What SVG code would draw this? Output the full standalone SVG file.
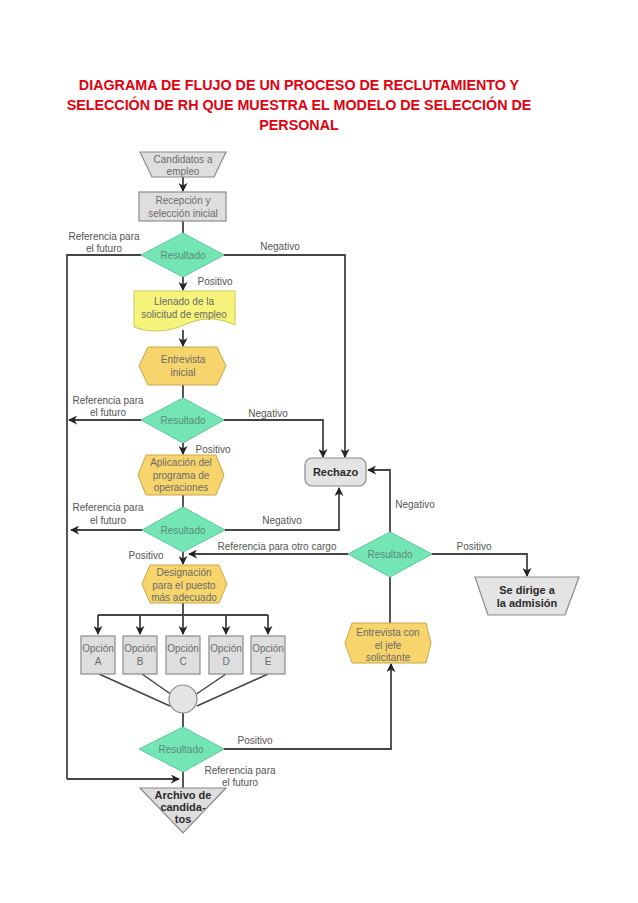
<svg xmlns="http://www.w3.org/2000/svg" width="638" height="903" viewBox="0 0 638 903">
<style>
.title{font-family:"Liberation Sans",Arial,sans-serif;font-weight:bold;font-size:14.3px;fill:#e3000f;text-anchor:middle}
.lbl{font-family:"Liberation Sans",Arial,sans-serif;font-size:10px;fill:#555;text-anchor:middle}
.nt{font-family:"Liberation Sans",Arial,sans-serif;font-size:10px;fill:#6a6a6a;text-anchor:middle}
.bt{font-family:"Liberation Sans",Arial,sans-serif;font-size:11px;font-weight:bold;fill:#2a2a2a;text-anchor:middle}
.gray{fill:#dedede;stroke:#8a8a8a;stroke-width:1.2}
.dia{fill:#74e6b6;stroke:#5cc89c;stroke-width:1}
.hex{fill:#f8d46c;stroke:#c9a84a;stroke-width:1}
.doc{fill:#f6f47a;stroke:#c9c55a;stroke-width:1}
.c{fill:none;stroke:#444;stroke-width:1.8}
.ca{fill:none;stroke:#444;stroke-width:1.8;marker-end:url(#ah)}
</style>
<defs>
<marker id="ah" viewBox="0 0 10 10" refX="9" refY="5" markerWidth="9" markerHeight="9" markerUnits="userSpaceOnUse" orient="auto">
<path d="M0,0 L10,5 L0,10 L3,5 z" fill="#222"/>
</marker>
</defs>
<rect width="638" height="903" fill="#fff"/>
<g id="title">
<text class="title" x="299" y="90">DIAGRAMA DE FLUJO DE UN PROCESO DE RECLUTAMIENTO Y</text>
<text class="title" x="299" y="110">SELECCIÓN DE RH QUE MUESTRA EL MODELO DE SELECCIÓN DE</text>
<text class="title" x="299" y="130">PERSONAL</text>
</g>
<g id="connectors">
<path class="ca" d="M183,177 V191"/>
<path class="c" d="M183,221 V233"/>
<path class="c" d="M141,255 H67 V779"/>
<path class="ca" d="M67,779 H179"/>
<path class="ca" d="M224,255 H345 V457"/>
<path class="ca" d="M183,277 V290"/>
<path class="ca" d="M183,330 V346"/>
<path class="c" d="M183,385 V398"/>
<path class="ca" d="M141,420 H69"/>
<path class="ca" d="M224,420 H323 V457"/>
<path class="ca" d="M183,443 V454"/>
<path class="c" d="M183,495 V507"/>
<path class="ca" d="M142,530 H71"/>
<path class="ca" d="M225,530 H339 V488"/>
<path class="ca" d="M183,552 V564"/>
<path class="ca" d="M348,554 H189"/>
<path class="ca" d="M390,532 V470 H368"/>
<path class="ca" d="M432,554 H527 V576"/>
<path class="c" d="M390,577 V623"/>
<path class="c" d="M183,603 V615"/>
<path class="c" d="M98,615 H268"/>
<path class="ca" d="M98,615 V634"/>
<path class="ca" d="M140,615 V634"/>
<path class="ca" d="M183,615 V634"/>
<path class="ca" d="M226,615 V634"/>
<path class="ca" d="M268,615 V634"/>
<path class="c" d="M99,674 L170,706 M142,674 L172,695 M226,674 L195,695 M268,674 L197,706" style="stroke-width:1.5"/>
<path class="c" d="M183,713 V727"/>
<path class="ca" d="M224,749 H391 V664"/>
<path class="c" d="M183,772 V788"/>
</g>
<g id="labels">
<text class="lbl" x="104" y="240">Referencia para</text>
<text class="lbl" x="104" y="252">el futuro</text>
<text class="lbl" x="280" y="250">Negativo</text>
<text class="lbl" x="215" y="285">Positivo</text>
<text class="lbl" x="108" y="404">Referencia para</text>
<text class="lbl" x="108" y="416">el futuro</text>
<text class="lbl" x="268" y="417">Negativo</text>
<text class="lbl" x="213" y="453">Positivo</text>
<text class="lbl" x="108" y="511">Referencia para</text>
<text class="lbl" x="108" y="524">el futuro</text>
<text class="lbl" x="282" y="524">Negativo</text>
<text class="lbl" x="146" y="559">Positivo</text>
<text class="lbl" x="277" y="550">Referencia para otro cargo</text>
<text class="lbl" x="415" y="508">Negativo</text>
<text class="lbl" x="474" y="550">Positivo</text>
<text class="lbl" x="255" y="744">Positivo</text>
<text class="lbl" x="240" y="774">Referencia para</text>
<text class="lbl" x="240" y="786">el futuro</text>
</g>
<g id="candidatos">
<path class="gray" d="M140,152 H226 L214,177 H152 Z"/>
<text class="nt" x="183" y="163">Candidatos a</text>
<text class="nt" x="183" y="175">empleo</text>
</g>
<g id="recepcion">
<rect class="gray" x="139" y="192" width="87" height="29"/>
<text class="nt" x="183" y="204">Recepción y</text>
<text class="nt" x="183" y="217">selección inicial</text>
</g>
<g id="resultado1">
<path class="dia" d="M183,233 L224,255 L183,277 L141,255 Z"/>
<text class="nt" x="183" y="259" style="fill:#5a8a78">Resultado</text>
</g>
<g id="llenado">
<path class="doc" d="M134,291 H235 V325 C215,316 200,318 184,325 C168,332 150,333 134,327 Z"/>
<text class="nt" x="184" y="305">Llenado de la</text>
<text class="nt" x="184" y="318">solicitud de empleo</text>
</g>
<g id="entrevista">
<path class="hex" d="M148,347 H217 L226,366 L217,385 H148 L139,366 Z"/>
<text class="nt" x="183" y="363">Entrevista</text>
<text class="nt" x="183" y="376">inicial</text>
</g>
<g id="resultado2">
<path class="dia" d="M183,398 L224,420 L183,443 L141,420 Z"/>
<text class="nt" x="183" y="424" style="fill:#5a8a78">Resultado</text>
</g>
<g id="aplicacion">
<path class="hex" d="M146,455 H216 L224,475 L216,495 H146 L138,475 Z"/>
<text class="nt" x="181" y="466">Aplicación del</text>
<text class="nt" x="181" y="479">programa de</text>
<text class="nt" x="181" y="491">operaciones</text>
</g>
<g id="rechazo">
<rect class="gray" x="305" y="458" width="61" height="28" rx="7" style="fill:#e4e4e4"/>
<text class="bt" x="335.5" y="476">Rechazo</text>
</g>
<g id="resultado3">
<path class="dia" d="M183,507 L225,530 L183,552 L142,530 Z"/>
<text class="nt" x="183" y="534" style="fill:#5a8a78">Resultado</text>
</g>
<g id="resultado4">
<path class="dia" d="M390,532 L432,554 L390,577 L348,554 Z"/>
<text class="nt" x="390" y="558" style="fill:#5a8a78">Resultado</text>
</g>
<g id="admision">
<path class="gray" d="M475,577 H579 L565,615 H488 Z" style="fill:#e4e4e4"/>
<text class="bt" x="527" y="594">Se dirige a</text>
<text class="bt" x="527" y="607">la admisión</text>
</g>
<g id="designacion">
<path class="hex" d="M150,565 H219 L227,584 L219,603 H150 L142,584 Z"/>
<text class="nt" x="184" y="576">Designación</text>
<text class="nt" x="184" y="589">para el puesto</text>
<text class="nt" x="184" y="601">más adecuado</text>
</g>
<g id="opcionA"><rect class="gray" x="81" y="636" width="34" height="38"/><text class="nt" x="98" y="652">Opción</text><text class="nt" x="98" y="665">A</text></g>
<g id="opcionB"><rect class="gray" x="123" y="636" width="34" height="38"/><text class="nt" x="140" y="652">Opción</text><text class="nt" x="140" y="665">B</text></g>
<g id="opcionC"><rect class="gray" x="166" y="636" width="34" height="38"/><text class="nt" x="183" y="652">Opción</text><text class="nt" x="183" y="665">C</text></g>
<g id="opcionD"><rect class="gray" x="209" y="636" width="34" height="38"/><text class="nt" x="226" y="652">Opción</text><text class="nt" x="226" y="665">D</text></g>
<g id="opcionE"><rect class="gray" x="251" y="636" width="34" height="38"/><text class="nt" x="268" y="652">Opción</text><text class="nt" x="268" y="665">E</text></g>
<g id="union">
<circle class="gray" cx="183" cy="699" r="14" style="fill:#e4e4e4"/>
</g>
<g id="entrevistaJefe">
<path class="hex" d="M352,623 H426 L431,643 L426,663 H352 L345,643 Z"/>
<text class="nt" x="388" y="636">Entrevista con</text>
<text class="nt" x="388" y="649">el jefe</text>
<text class="nt" x="388" y="661">solicitante</text>
</g>
<g id="resultado5">
<path class="dia" d="M183,727 L224,749 L183,772 L139,749 Z"/>
<text class="nt" x="181" y="753" style="fill:#5a8a78">Resultado</text>
</g>
<g id="archivo">
<path class="gray" d="M140,788 H226 L183,833 Z"/>
<text class="bt" x="183" y="799">Archivo de</text>
<text class="bt" x="183" y="811">candida-</text>
<text class="bt" x="183" y="823">tos</text>
</g>
</svg>
